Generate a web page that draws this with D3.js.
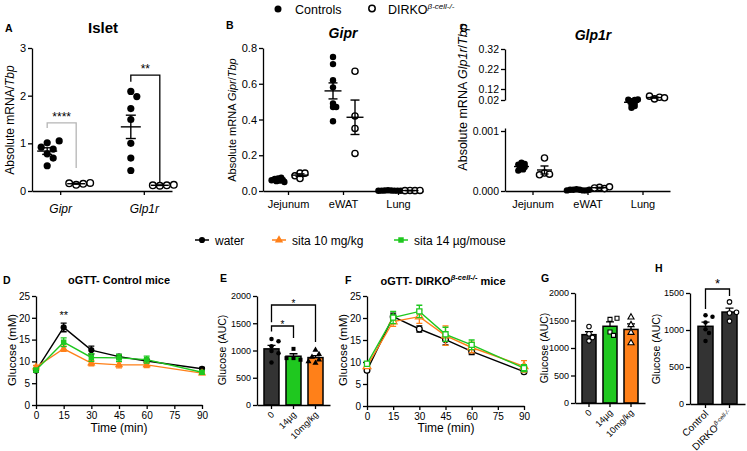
<!DOCTYPE html>
<html><head><meta charset="utf-8">
<script src="https://cdn.jsdelivr.net/npm/d3@7"></script>
<style>body{margin:0;background:#fff}svg{display:block}</style>
</head><body><svg id="c" width="747" height="451"></svg>
<script>
// ================= DATA =================
const topLegend = ["Controls", "DIRKO"];
// Panel A: Islet
const islCategories = ["Gipr", "Glp1r"];
const islControls = [[1.01, 1.05, 0.88, 0.92, 0.78, 0.69, 0.53], [2.09, 1.98, 1.73, 1.5, 1.0, 0.69, 0.43]];
const islDirko = [[0.13, 0.15, 0.16, 0.17], [0.11, 0.12, 0.12, 0.13]];
const islTicks = [0, 1, 2, 3];
const islSigLabel = ["****", "**"];
const islSigTop = [1.43, 2.43];
const islSigLegL = [1.32, 2.29];
const islSigLegR = [0.48, 0.17];
// Panel B: Gipr
const tissues = ["Jejunum", "eWAT", "Lung"];
const gipControls = [[0.07, 0.075, 0.068, 0.062, 0.06, 0.058, 0.055, 0.05], [0.75, 0.71, 0.62, 0.58, 0.49, 0.47, 0.47, 0.39], [0.004, 0.003, 0.003, 0.002, 0.002, 0.002, 0.001, 0.001]];
const gipDirko = [[0.1, 0.1, 0.085, 0.07], [0.67, 0.42, 0.35, 0.21], [0.003, 0.002, 0.002, 0.003]];
const gipTicks = [0, 0.2, 0.4, 0.6, 0.8];
// Panel C: Glp1r
const glpControls = [[0.00047, 0.00045, 0.00044, 0.00042, 0.0004, 0.00038, 0.00036, 0.00034], [0.00003, 0.00002, 0.00002, 0.00001, 0.00002, 0.00001, 0.00001, 0.00002], [0.006, 0.009, 0.012, 0.015, 0.018, 0.02, 0.022, 0.025]];
const glpDirko = [[0.00055, 0.0003, 0.00028, 0.00027], [0.00006, 0.00004, 0.00005, 0.00007], [0.03, 0.045, 0.055, 0.04]];
const glpTicksLow = [0, 0.001];
const glpTicksHigh = [0.02, 0.12, 0.22, 0.32];
// Panels D & F: oGTT
const ogttTimes = [0, 15, 30, 45, 60, 90];
const timeTicks = [0, 15, 30, 45, 60, 75, 90];
const glucTicks = [0, 5, 10, 15, 20, 25];
const treatLabels = ["water", "sita 10 mg/kg", "sita 14 µg/mouse"];
const ctlWater = [7.9, 17.8, 12.6, 11.1, 10.1, 8.3];
const ctlWaterSem = [0.4, 1.0, 0.9, 0.5, 0.4, 0.3];
const ctlSita10 = [8.7, 12.9, 9.6, 9.2, 9.2, 7.3];
const ctlSita10Sem = [0.4, 0.6, 0.6, 0.7, 0.6, 0.3];
const ctlSita14 = [8.0, 14.4, 10.9, 10.8, 10.4, 7.5];
const ctlSita14Sem = [0.4, 1.0, 0.9, 0.8, 0.8, 0.4];
const koWater = [8.1, 20.3, 17.5, 15.1, 12.4, 7.8];
const koWaterSem = [0.3, 0.8, 0.7, 1.2, 0.7, 0.3];
const koSita10 = [9.0, 19.2, 20.3, 16.0, 13.3, 9.0];
const koSita10Sem = [0.4, 1.1, 1.5, 2.2, 1.2, 1.3];
const koSita14 = [9.6, 20.1, 21.5, 16.3, 13.9, 8.6];
const koSita14Sem = [0.5, 1.4, 1.4, 1.6, 1.1, 0.8];
// Panels E & G: AUC
const aucGroups = ["0", "14µg", "10mg/kg"];
const aucTicks = [0, 500, 1000, 1500, 2000];
const aucCtl = [[1210, 1170, 1080, 990, 950, 780], [1030, 860, 830, 860], [1010, 930, 880, 830, 800, 770]];
const aucKo = [[1390, 1260, 1190, 1130], [1520, 1540, 1290, 1230], [1560, 1420, 1280, 1090]];
const eSigFrom = ["0", "0"], eSigTo = ["14µg", "10mg/kg"];
const eSigTop = [1450, 1835], eSigLegL = [1350, 1520], eSigLegR = [1230, 1156];
// Panel H
const hGroups = ["Control", "DIRKO"];
const hTicks = [0, 500, 1000, 1500];
const hPoints = [[1200, 1180, 1100, 1010, 960, 850], [1380, 1230, 1240, 1120]];
const hSigTop = 1554, hSigLegL = 1284, hSigLegR = 1459;

// ================= STYLE =================
const FONT = '"Liberation Sans", Arial, Helvetica, sans-serif';
const ORANGE = "#FF8019", GREEN = "#1FC81F", DARK = "#333333";
const svg = d3.select("#c").attr("font-family", FONT);

function txt(x, y, s, o = {}) {
  const t = svg.append("text").attr("x", x).attr("y", y).text(s)
    .attr("font-size", o.fs || 11).attr("fill", o.fill || "#000")
    .attr("text-anchor", o.anchor || "start");
  if (o.bold) t.attr("font-weight", "bold");
  if (o.italic) t.attr("font-style", "italic");
  return t;
}
function styleAxis(g, fs) {
  g.attr("font-family", FONT).attr("font-size", fs);
  g.selectAll("path,line").attr("stroke", "#000").attr("stroke-width", 1.3);
  g.selectAll("text").attr("fill", "#000");
  return g;
}
function leftAxis(x, scale, ticks, fmt, fs) {
  const g = svg.append("g").attr("transform", `translate(${x},0)`)
    .call(d3.axisLeft(scale).tickValues(ticks).tickFormat(fmt).tickSize(4).tickSizeOuter(0).tickPadding(2));
  return styleAxis(g, fs);
}
function bottomAxis(y, scale, fs, pad, ticks) {
  const ax = d3.axisBottom(scale).tickSize(4).tickSizeOuter(0).tickPadding(pad);
  if (ticks) ax.tickValues(ticks);
  const g = svg.append("g").attr("transform", `translate(0,${y})`).call(ax);
  return styleAxis(g, fs);
}
function yLabel(x, y, parts, fs) {
  const t = svg.append("text").attr("transform", `translate(${x},${y}) rotate(-90)`)
    .attr("text-anchor", "middle").attr("font-size", fs).attr("fill", "#000");
  parts.forEach(p => {
    const s = t.append("tspan").text(p[0]);
    if (p[1]) s.attr("font-style", "italic");
  });
  return t;
}
function swarm(values, ys, cx, minD, step) {
  const placed = [];
  return values.map(v => {
    const y = ys(v);
    const cands = [0];
    for (let j = 1; j < 12; j++) cands.push(j * step, -j * step);
    let x = cx;
    for (const dx of cands) {
      if (placed.every(p => Math.hypot(p.x - (cx + dx), p.y - y) >= minD)) { x = cx + dx; break; }
    }
    placed.push({x, y});
    return {x, y};
  });
}
function sem(a) { return d3.deviation(a) / Math.sqrt(a.length); }
function meanSem(cx, vals, ys, w, cap) {
  const m = d3.mean(vals), e = sem(vals);
  const g = svg.append("g").attr("stroke", "#000").attr("stroke-width", 1.4);
  g.append("line").attr("x1", cx - w / 2).attr("x2", cx + w / 2).attr("y1", ys(m)).attr("y2", ys(m));
  g.append("line").attr("x1", cx).attr("x2", cx).attr("y1", ys(m - e)).attr("y2", ys(m + e));
  [m - e, m + e].forEach(v => g.append("line").attr("x1", cx - cap / 2).attr("x2", cx + cap / 2).attr("y1", ys(v)).attr("y2", ys(v)));
}
function dots(pts, r, filled) {
  pts.forEach(p => svg.append("circle").attr("cx", p.x).attr("cy", p.y).attr("r", r)
    .attr("fill", filled ? "#000" : "#fff").attr("stroke", "#000").attr("stroke-width", filled ? 0 : 1.4));
}
function bracket(x1, x2, yTop, yL, yR, color, label, fs, sy) {
  svg.append("path").attr("d", `M${x1},${yL}V${yTop}H${x2}V${yR}`).attr("fill", "none")
    .attr("stroke", color).attr("stroke-width", 1.3);
  txt((x1 + x2) / 2, sy, label, {fs, anchor: "middle"});
}

// ================= TOP LEGEND =================
svg.append("circle").attr("cx", 278).attr("cy", 9).attr("r", 3.5).attr("fill", "#000");
txt(295, 13.5, topLegend[0], {fs: 12.5});
svg.append("circle").attr("cx", 372).attr("cy", 8.5).attr("r", 3.2).attr("fill", "#fff").attr("stroke", "#000").attr("stroke-width", 1.5);
const tl = txt(388, 13.5, topLegend[1], {fs: 12.5});
tl.append("tspan").attr("dy", -5).attr("font-size", 8).attr("font-style", "italic").text("β-cell-/-");

// ================= PANEL A =================
txt(5, 32, "A", {fs: 10.5, bold: true});
txt(103, 33, "Islet", {fs: 15, bold: true, anchor: "middle"});
const yA = d3.scaleLinear([0, 3], [191, 48]);
const xA = d3.scalePoint(islCategories, [32, 172]).padding(0.337);
leftAxis(32, yA, islTicks, d3.format("d"), 11);
bottomAxis(191, xA, 12, 9).selectAll("text").attr("font-style", "italic");
yLabel(14, 120, [["Absolute mRNA/"], ["Tbp", true]], 12);
islCategories.forEach((c, i) => {
  const cx = xA(c) - 13, kx = xA(c) + 16;
  dots(swarm(islControls[i], yA, cx, 7, 6), 3.6, true);
  meanSem(cx, islControls[i], yA, 20, 10);
  dots(swarm(islDirko[i], yA, kx, 6.5, 3.5), 3.3, false);
  meanSem(kx, islDirko[i], yA, 18, 8);
  bracket(cx, kx, yA(islSigTop[i]), yA(islSigLegL[i]), yA(islSigLegR[i]), i === 0 ? "#b5b5b5" : "#000",
    islSigLabel[i], 12, yA(islSigTop[i]) - 2);
});

// ================= PANEL B =================
txt(226, 29, "B", {fs: 10.5, bold: true});
txt(343, 38, "Gipr", {fs: 14, bold: true, italic: true, anchor: "middle"});
const yB = d3.scaleLinear([0, 0.8], [191, 48]);
const xB = d3.scalePoint(tissues, [263, 423]).padding(0.4545);
leftAxis(263, yB, gipTicks, d3.format(".1f"), 11);
bottomAxis(191, xB, 11, 5);
yLabel(236, 120, [["Absolute mRNA "], ["Gipr", true], ["/"], ["Tbp", true]], 11);
tissues.forEach((c, i) => {
  const cx = xB(c) - 10, kx = xB(c) + 12;
  dots(swarm(gipControls[i], yB, cx, 2.6, 1.6), 3.2, true);
  meanSem(cx, gipControls[i], yB, 17, 9);
  dots(swarm(gipDirko[i], yB, kx, 5, 2.5), 3.1, false);
  meanSem(kx, gipDirko[i], yB, 17, 9);
});

// ================= PANEL C =================
txt(460, 32, "C", {fs: 10.5, bold: true});
txt(593, 40, "Glp1r", {fs: 14, bold: true, italic: true, anchor: "middle"});
const yCLow = d3.scaleLinear([0, 0.00105], [191, 128]);
const yCHighAxis = d3.scaleLinear([0.02, 0.12, 0.32], [100, 89, 49]);
const yCHighPts = d3.scaleLinear([0, 0.02, 0.12, 0.32], [111, 100, 89, 49]);
const yC = v => (v >= 0.002 ? yCHighPts(v) : yCLow(v));
const xC = d3.scalePoint(tissues, [505, 670]).padding(0.5);
leftAxis(505, yCLow, glpTicksLow, d3.format(".3f"), 10.5);
leftAxis(505, yCHighAxis, glpTicksHigh, d3.format(".2f"), 10.5);
bottomAxis(191, xC, 11, 5);
yLabel(467, 97, [["Absolute mRNA "], ["Glp1r", true], ["/"], ["Tbp", true]], 12.5);
tissues.forEach((c, i) => {
  const cx = xC(c) - 11, kx = xC(c) + 12;
  dots(swarm(glpControls[i], yC, cx, 2.6, 1.6), 3.2, true);
  meanSem(cx, glpControls[i], yC, 15, 8);
  dots(swarm(glpDirko[i], yC, kx, 5, 2.5), 3.1, false);
  meanSem(kx, glpDirko[i], yC, 15, 8);
});

// ================= MIDDLE LEGEND =================
const treatColors = ["#000", ORANGE, GREEN];
const treatSymbols = [d3.symbolCircle, d3.symbolTriangle, d3.symbolSquare];
const legX = [195, 272, 394];
treatLabels.forEach((l, i) => {
  svg.append("line").attr("x1", legX[i]).attr("x2", legX[i] + 14).attr("y1", 240).attr("y2", 240)
    .attr("stroke", treatColors[i]).attr("stroke-width", 1.5);
  svg.append("path").attr("d", d3.symbol().type(treatSymbols[i]).size(30)())
    .attr("transform", `translate(${legX[i] + 7},240)`).attr("fill", treatColors[i]);
  txt(legX[i] + 20, 244.5, l, {fs: 12});
});

// ================= LINE PANELS D & F =================
function ogtt(xs, ys, series, open) {
  series.forEach((s, k) => {
    const col = treatColors[k];
    const g = svg.append("g");
    g.append("path").datum(s.m).attr("fill", "none").attr("stroke", col).attr("stroke-width", 1.4)
      .attr("d", d3.line().x((d, i) => xs(ogttTimes[i])).y(d => ys(d)));
    s.m.forEach((m, i) => {
      const x = xs(ogttTimes[i]);
      g.append("path").attr("d", `M${x},${ys(m - s.e[i])}V${ys(m + s.e[i])}M${x - 3},${ys(m + s.e[i])}H${x + 3}M${x - 3},${ys(m - s.e[i])}H${x + 3}`)
        .attr("stroke", col).attr("stroke-width", 1.3).attr("fill", "none");
      g.append("path").attr("d", d3.symbol().type(treatSymbols[k]).size(open ? 26 : 30)())
        .attr("transform", `translate(${x},${ys(m)})`)
        .attr("fill", open ? "#fff" : col).attr("stroke", col).attr("stroke-width", open ? 1.3 : 0);
    });
  });
}
// D
txt(3, 284, "D", {fs: 10.5, bold: true});
txt(119, 284, "oGTT- Control mice", {fs: 11, bold: true, anchor: "middle"});
const xD = d3.scaleLinear([0, 90], [36, 202]);
const yD = d3.scaleLinear([0, 25], [405, 296]);
leftAxis(36, yD, glucTicks, d3.format("d"), 10);
bottomAxis(405, xD, 10, 3, timeTicks);
yLabel(16, 350, [["Glucose (mM)"]], 11.5);
txt(119, 432, "Time (min)", {fs: 12, anchor: "middle"});
ogtt(xD, yD, [{m: ctlWater, e: ctlWaterSem}, {m: ctlSita10, e: ctlSita10Sem}, {m: ctlSita14, e: ctlSita14Sem}], false);
txt(xD(15), 319, "**", {fs: 11, anchor: "middle"});

// F
txt(345, 284, "F", {fs: 10.5, bold: true});
const ft = txt(443, 285, "oGTT- DIRKO", {fs: 11, bold: true, anchor: "middle"});
ft.append("tspan").attr("dy", -5).attr("font-size", 7.5).attr("font-style", "italic").text("β-cell-/-");
ft.append("tspan").attr("dy", 5).text(" mice");
const xF = d3.scaleLinear([0, 90], [367, 524]);
const yF = d3.scaleLinear([0, 25], [406, 296]);
leftAxis(367, yF, glucTicks, d3.format("d"), 10);
bottomAxis(406, xF, 10, 3, timeTicks);
yLabel(347, 350, [["Glucose (mM)"]], 11.5);
txt(446, 432, "Time (min)", {fs: 12, anchor: "middle"});
ogtt(xF, yF, [{m: koWater, e: koWaterSem}, {m: koSita10, e: koSita10Sem}, {m: koSita14, e: koSita14Sem}], true);

// ================= BAR PANELS =================
const barFills = [DARK, GREEN, ORANGE];
function bars(xs, ys, groups, pts, fills, syms, openPts, baseY) {
  groups.forEach((gname, i) => {
    const vals = pts[i], m = d3.mean(vals), e = sem(vals);
    const x0 = xs(gname), w = xs.bandwidth(), cx = x0 + w / 2;
    svg.append("rect").attr("x", x0).attr("y", ys(m)).attr("width", w).attr("height", baseY - ys(m))
      .attr("fill", fills[i]).attr("stroke", "#000").attr("stroke-width", 1.5);
    svg.append("path").attr("d", `M${cx},${ys(m)}V${ys(m + e)}M${cx - 4},${ys(m + e)}H${cx + 4}`)
      .attr("stroke", "#000").attr("stroke-width", 1.3);
    swarm(vals, ys, cx, 4.5, 3.5).forEach(p => {
      svg.append("path").attr("d", d3.symbol().type(syms[i]).size(16)())
        .attr("transform", `translate(${p.x},${p.y})`)
        .attr("fill", openPts[i] ? "#fff" : "#000").attr("stroke", "#000").attr("stroke-width", openPts[i] ? 1.1 : 0);
    });
  });
}
function rotLabels(g, fs) {
  g.selectAll(".tick text").attr("y", 0).attr("dy", "0.35em").attr("x", 0)
    .attr("text-anchor", "end").attr("transform", "translate(1,8) rotate(-45)").attr("font-size", fs);
}
// E
txt(220, 282, "E", {fs: 10.5, bold: true});
const yE = d3.scaleLinear([0, 2000], [405, 296]);
const xE = d3.scaleBand(aucGroups, [257, 330]).paddingInner(0.318).paddingOuter(0.318);
leftAxis(257, yE, aucTicks, d3.format("d"), 9);
yLabel(226, 350, [["Glucose (AUC)"]], 10.5);
bars(xE, yE, aucGroups, aucCtl, barFills, [d3.symbolCircle, d3.symbolSquare, d3.symbolTriangle], [false, false, false], 405);
rotLabels(bottomAxis(405, xE, 9, 3), 9);
eSigFrom.forEach((f, i) => {
  const x1 = xE(f) + xE.bandwidth() / 2, x2 = xE(eSigTo[i]) + xE.bandwidth() / 2;
  bracket(x1, x2, yE(eSigTop[i]), yE(eSigLegL[i]), yE(eSigLegR[i]), "#000", "*", 10, yE(eSigTop[i]) + 2);
});

// G
txt(541, 282, "G", {fs: 10.5, bold: true});
const yG = d3.scaleLinear([0, 2000], [403, 293]);
const xG = d3.scaleBand(aucGroups, [575, 645]).paddingInner(0.333).paddingOuter(0.333);
leftAxis(575, yG, aucTicks, d3.format("d"), 9);
yLabel(548, 348, [["Glucose (AUC)"]], 10.5);
bars(xG, yG, aucGroups, aucKo, barFills, [d3.symbolCircle, d3.symbolSquare, d3.symbolTriangle], [true, true, true], 403);
rotLabels(bottomAxis(403, xG, 9, 3), 9);

// H
txt(655, 272, "H", {fs: 10.5, bold: true});
const yH = d3.scaleLinear([0, 1500], [404, 293]);
const xH = d3.scaleBand(hGroups, [690, 745]).paddingInner(0.375).paddingOuter(0.333);
leftAxis(690, yH, hTicks, d3.format("d"), 9);
yLabel(660, 349, [["Glucose (AUC)"]], 10.5);
bars(xH, yH, hGroups, hPoints, [DARK, DARK], [d3.symbolCircle, d3.symbolCircle], [false, true], 404);
const hAx = bottomAxis(404, xH, 10, 3);
rotLabels(hAx, 10);
hAx.selectAll(".tick text").each(function (d) {
  if (d === "DIRKO") {
    d3.select(this).append("tspan").attr("dy", -4).attr("font-size", 6).attr("font-style", "italic").text("β-cell-/-");
  }
});
bracket(xH("Control") + xH.bandwidth() / 2, xH("DIRKO") + xH.bandwidth() / 2, yH(hSigTop), yH(hSigLegL), yH(hSigLegR), "#000", "*", 13, yH(hSigTop) - 1);
</script></body></html>
